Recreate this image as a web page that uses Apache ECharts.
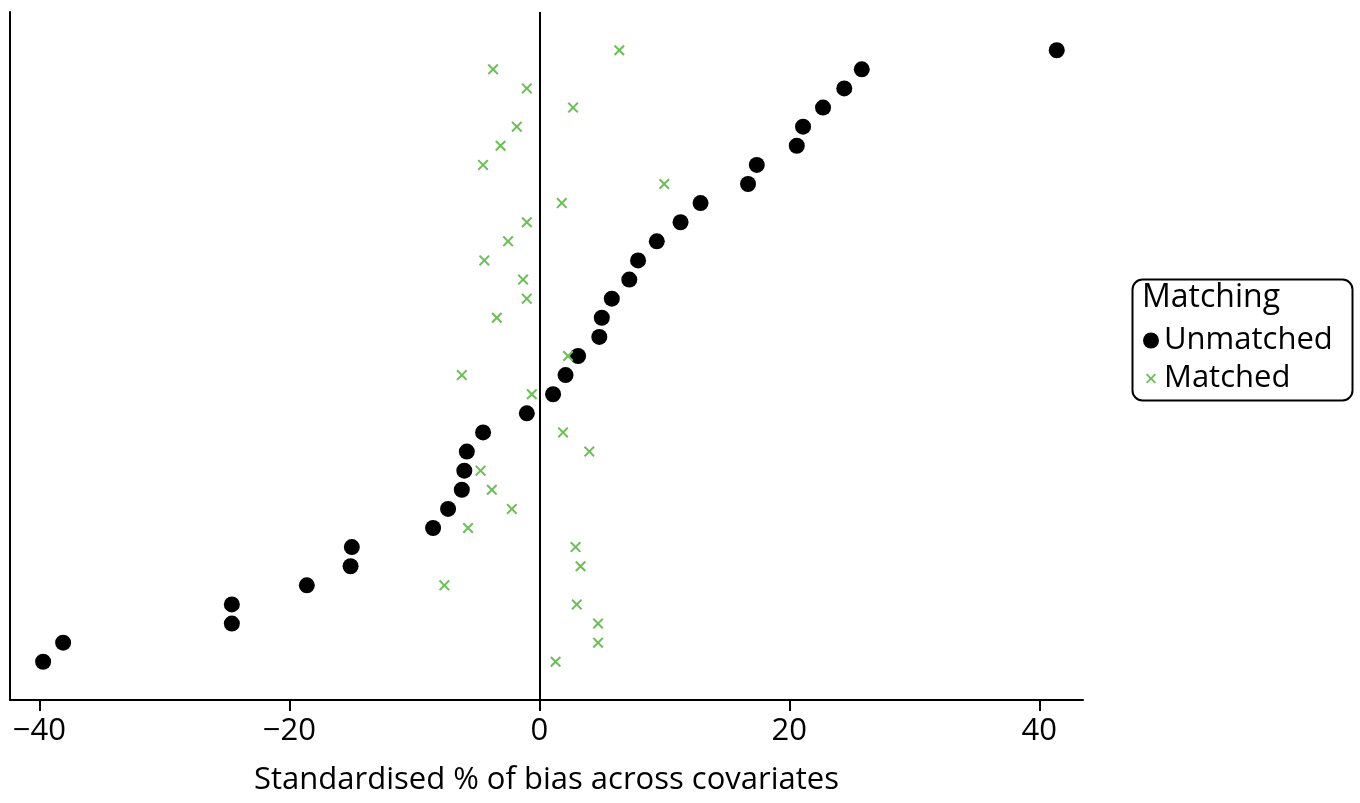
<!DOCTYPE html>
<html>
<head>
<meta charset="utf-8">
<script src="https://cdn.jsdelivr.net/npm/echarts@6/dist/echarts.min.js"></script>
<style>html,body{margin:0;padding:0;background:#fff}#c{width:1360px;height:803px}</style>
</head>
<body>
<div id="c"></div>
<script>
// Covariates sorted by unmatched bias (top row first)
var unmatched = [41.4, 25.8, 24.4, 22.7, 21.1, 20.6, 17.4, 16.7, 12.9, 11.3, 9.4, 7.9, 7.2, 5.8, 5.0, 4.8, 3.1, 2.1, 1.1, -1.0, -4.5, -5.8, -6.0, -6.2, -7.3, -8.5, -15.0, -15.1, -18.6, -24.6, -24.6, -38.1, -39.7];
var matched = [6.4, -3.7, -1.0, 2.7, -1.8, -3.1, -4.5, 10.0, 1.8, -1.0, -2.5, -4.4, -1.3, -1.0, -3.4, null, 2.3, -6.2, -0.6, null, 1.9, 4.0, -4.7, -3.8, -2.2, -5.7, 2.9, 3.3, -7.6, 3.0, 4.7, 4.7, 1.3];
var xTicks = [-40, -20, 0, 20, 40];
var seriesNames = ['Unmatched', 'Matched'];
var legendTitle = 'Matching';
var xTitle = 'Standardised % of bias across covariates';

var FONT = '"Open Sans", "Noto Sans", sans-serif';
var GREEN = '#6cbf58';
var crossPath = 'path://M0,1.3L1.3,0L5,3.7L8.7,0L10,1.3L6.3,5L10,8.7L8.7,10L5,6.3L1.3,10L0,8.7L3.7,5Z';
var crossLegend = 'path://M-3,-3L-3,-3M13,13L13,13M0,1.3L1.3,0L5,3.7L8.7,0L10,1.3L6.3,5L10,8.7L8.7,10L5,6.3L1.3,10L0,8.7L3.7,5Z';

function toPoints(arr) {
  var out = [];
  arr.forEach(function (v, i) { if (v !== null) out.push([v, i]); });
  return out;
}

var chart = echarts.init(document.getElementById('c'), null, {renderer: 'canvas'});
chart.setOption({
  animation: false,
  backgroundColor: '#fff',
  textStyle: {fontFamily: FONT},
  grid: {left: 10, right: 277, top: 12, bottom: 103, containLabel: false},
  xAxis: {
    type: 'value', min: -42.35, max: 43.5,
    splitLine: {show: false},
    axisLine: {show: true, onZero: false, lineStyle: {color: '#000', width: 2}},
    axisTick: {show: true, length: 11, lineStyle: {color: '#000', width: 2}, customValues: xTicks},
    axisLabel: {
      customValues: xTicks, color: '#000', fontSize: 31, fontFamily: FONT, margin: 16,
      formatter: function (v) { return String(v).replace('-', '\u2212'); }
    },
    name: xTitle, nameLocation: 'middle', nameGap: 65,
    nameTextStyle: {color: '#000', fontSize: 31, fontFamily: FONT}
  },
  yAxis: {
    type: 'value', min: -2, max: 34, inverse: true,
    splitLine: {show: false},
    axisLine: {show: true, onZero: false, lineStyle: {color: '#000', width: 2}},
    axisTick: {show: false},
    axisLabel: {show: false}
  },
  legend: {
    orient: 'vertical', left: 1138, top: 320, itemGap: 7,
    itemWidth: 16, itemHeight: 16,
    textStyle: {color: '#000', fontSize: 31, fontFamily: FONT},
    data: [
      {name: seriesNames[0], icon: 'circle', itemStyle: {color: '#000', opacity: 1}},
      {name: seriesNames[1], icon: crossLegend, itemStyle: {color: GREEN, opacity: 1}}
    ]
  },
  graphic: [
    {type: 'rect', left: 1130, top: 277, shape: {width: 220, height: 121, r: 10},
     style: {fill: 'none', stroke: '#000', lineWidth: 2}},
    {type: 'text', left: 1142, top: 282,
     style: {text: legendTitle, fill: '#000', font: '32px ' + FONT}}
  ],
  series: [
    {
      name: seriesNames[0], type: 'scatter', symbol: 'circle', symbolSize: 16,
      itemStyle: {color: '#000', opacity: 1}, data: toPoints(unmatched), z: 2,
      markLine: {
        silent: true, symbol: 'none', label: {show: false},
        lineStyle: {color: '#000', width: 2, type: 'solid', opacity: 1},
        data: [{xAxis: 0}]
      }
    },
    {
      name: seriesNames[1], type: 'scatter', symbol: crossPath, symbolSize: 11,
      itemStyle: {color: GREEN, opacity: 1}, data: toPoints(matched), z: 3
    }
  ]
});
</script>
</body>
</html>
